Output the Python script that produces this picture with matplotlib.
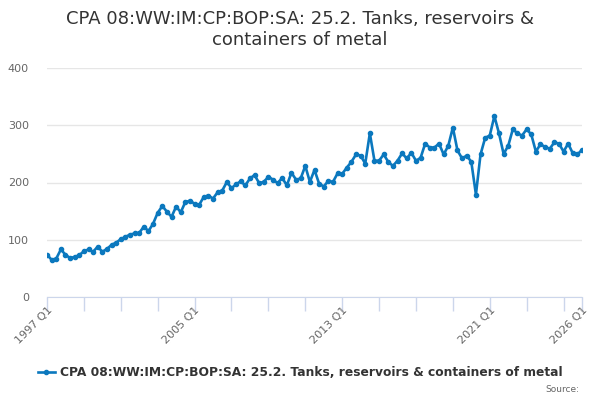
import matplotlib
matplotlib.use("Agg")
import matplotlib.pyplot as plt
from matplotlib.transforms import ScaledTranslation

title = "CPA 08:WW:IM:CP:BOP:SA: 25.2. Tanks, reservoirs &\ncontainers of metal"
series_name = "CPA 08:WW:IM:CP:BOP:SA: 25.2. Tanks, reservoirs & containers of metal"

start_year = 1997
values = [74, 65, 67, 83, 74, 68, 70, 73, 80, 83,
          79, 88, 79, 84, 91, 95, 101, 105, 109, 111,
          112, 123, 115, 128, 147, 159, 149, 140, 158, 148,
          166, 168, 163, 161, 175, 177, 172, 183, 186, 201,
          190, 197, 202, 195, 207, 213, 199, 201, 210, 205,
          199, 208, 195, 217, 205, 207, 229, 201, 222, 198,
          193, 203, 201, 216, 215, 226, 236, 249, 247, 233,
          286, 238, 238, 249, 236, 229, 238, 251, 242, 252,
          238, 243, 268, 261, 261, 268, 249, 264, 296, 256,
          242, 247, 236, 179, 249, 278, 282, 316, 286, 250,
          264, 293, 286, 282, 293, 284, 254, 267, 262, 259,
          270, 268, 254, 268, 251, 249, 257]

labels = [f"{start_year + i // 4} Q{i % 4 + 1}" for i in range(len(values))]
x = list(range(len(values)))

tick_labels = ["1997 Q1", "2005 Q1", "2013 Q1", "2021 Q1", "2026 Q1"]
yticks = [0, 100, 200, 300, 400]

line_color = "#0b78be"

fig = plt.figure(figsize=(6, 4), dpi=100)
ax = fig.add_axes([47 / 600, 1 - 297 / 400, (582 - 47) / 600, (297 - 68) / 400])

ax.plot(x, values, color=line_color, lw=1.9, marker="o", ms=3.0, label=series_name, zorder=3)

ax.set_xlim(0, len(values) - 1)
ax.set_ylim(0, 400)
ax.set_yticks(yticks)
ax.set_yticklabels([str(v) for v in yticks])
ax.grid(axis="y", color="#e6e6e6", lw=1)
ax.set_axisbelow(True)

major = list(range(0, len(values), 8)) + [len(values) - 1]
ax.set_xticks(major)
ax.set_xticklabels([labels[i] if labels[i] in tick_labels else "" for i in major],
                   rotation=45, ha="right", rotation_mode="anchor")
offset = ScaledTranslation(2 / 100, 0, fig.dpi_scale_trans)
for lab in ax.get_xticklabels():
    lab.set_transform(lab.get_transform() + offset)

for s in ["top", "right", "left"]:
    ax.spines[s].set_visible(False)
ax.spines["bottom"].set_color("#ccd6eb")
ax.tick_params(axis="x", colors="#ccd6eb", length=10, width=1, labelcolor="#666666",
               labelsize=8, pad=-4)
ax.tick_params(axis="y", length=0, labelcolor="#666666", labelsize=8, pad=13)

fig.suptitle(title, x=0.5, y=0.975, fontsize=13, color="#333333", va="top", linespacing=1.2)

leg = fig.legend(loc="center", bbox_to_anchor=(0.5, 1 - 373 / 400), frameon=False,
                 prop={"size": 8.8, "weight": "bold"}, handlelength=1.4, handletextpad=0.4)
for t in leg.get_texts():
    t.set_color("#333333")

fig.text(579 / 600, 1 - 390 / 400, "Source:", ha="right", va="center", fontsize=6.5, color="#666666")

fig.savefig("out.png", dpi=100)
